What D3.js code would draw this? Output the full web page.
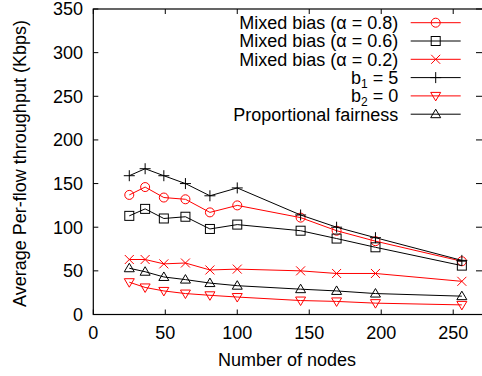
<!DOCTYPE html>
<html>
<head>
<meta charset="utf-8">
<script src="https://cdn.jsdelivr.net/npm/d3@7"></script>
<style>
body{margin:0;background:#fff;}
svg{display:block;font-family:"Liberation Sans",Arial,sans-serif;}
</style>
</head>
<body>
<div id="chart"></div>
<script>
// node counts (x) and per-flow throughput in Kbps for each scheme
var nodes = [25, 36, 49, 64, 81, 100, 144, 169, 196, 256];
var mixed08 = [137, 146, 134, 132, 117, 125, 111, 96, 84, 61];
var mixed06 = [113, 121, 110, 112, 98, 103, 96, 87, 77, 56];
var mixed02 = [63, 63, 58, 59, 51, 52, 50, 47, 47, 38];
var b1_5 = [159, 167, 159, 150, 136, 145, 114, 100, 88, 62];
var b2_0 = [37, 31, 27, 24, 22, 20, 16, 15, 13, 11];
var propFair = [53, 49, 43, 40, 36, 33, 29, 27, 24, 21];

var xTicks = [0, 50, 100, 150, 200, 250];
var yTicks = [0, 50, 100, 150, 200, 250, 300, 350];

var series = [
	{name:"Mixed bias (\u03b1 = 0.8)", vals:mixed08, col:"#ff0000", sym:"circle"},
	{name:"Mixed bias (\u03b1 = 0.6)", vals:mixed06, col:"#000000", sym:"square"},
	{name:"Mixed bias (\u03b1 = 0.2)", vals:mixed02, col:"#ff0000", sym:"cross"},
	{name:["b","1"," = 5"], vals:b1_5, col:"#000000", sym:"plus"},
	{name:["b","2"," = 0"], vals:b2_0, col:"#ff0000", sym:"down"},
	{name:"Proportional fairness", vals:propFair, col:"#000000", sym:"up"}
];

var width = 482, height = 376;
var pl = 93.3, pr = 482, pt = 9, pb = 314.5;
var fs = "18px";

var svg = d3.select("#chart").append("svg").attr("width",width).attr("height",height);

var x = d3.scaleLinear().domain([0,270]).range([pl,pr]);
var y = d3.scaleLinear().domain([0,350]).range([pb,pt]);

//ticks on all four sides, pointing inwards
var tl = 5;
svg.append("g").selectAll("line").data(xTicks).enter().append("line")
	.attr("x1",function(d){return x(d)}).attr("x2",function(d){return x(d)})
	.attr("y1",pb).attr("y2",pb-tl).attr("stroke","#000");
svg.append("g").selectAll("line").data(xTicks).enter().append("line")
	.attr("x1",function(d){return x(d)}).attr("x2",function(d){return x(d)})
	.attr("y1",pt).attr("y2",pt+tl).attr("stroke","#000");
svg.append("g").selectAll("line").data(yTicks).enter().append("line")
	.attr("x1",pl).attr("x2",pl+tl)
	.attr("y1",function(d){return y(d)}).attr("y2",function(d){return y(d)}).attr("stroke","#000");
svg.append("g").selectAll("line").data(yTicks).enter().append("line")
	.attr("x1",pr).attr("x2",pr-1-tl)
	.attr("y1",function(d){return y(d)}).attr("y2",function(d){return y(d)}).attr("stroke","#000");

svg.append("rect").attr("x",pl).attr("y",pt).attr("width",pr-pl+5).attr("height",pb-pt)
	.attr("fill","none").attr("stroke","#000").attr("stroke-width",1.2);

svg.append("g").selectAll("text").data(xTicks).enter().append("text")
	.attr("x",function(d){return x(d)}).attr("y",339)
	.attr("text-anchor","middle").style("font-size",fs).text(function(d){return d});
svg.append("g").selectAll("text").data(yTicks).enter().append("text")
	.attr("x",83).attr("y",function(d){return y(d)}).attr("dy","0.36em")
	.attr("text-anchor","end").style("font-size",fs).text(function(d){return d});

svg.append("text").attr("x",287).attr("y",366).attr("text-anchor","middle")
	.style("font-size",fs).text("Number of nodes");
svg.append("text").attr("transform","translate(19.5,163.5) rotate(-90)").attr("dy","0.36em")
	.attr("text-anchor","middle").style("font-size",fs).text("Average Per-flow throughput (Kbps)");

function drawSym(g, sym, col){
	var r = 4.5;
	if(sym==="circle"){
		g.append("circle").attr("r",r).attr("fill","none").attr("stroke",col);
	}else if(sym==="square"){
		g.append("rect").attr("x",-r).attr("y",-r).attr("width",2*r).attr("height",2*r).attr("fill","none").attr("stroke",col);
	}else if(sym==="cross"){
		g.append("path").attr("d","M-4.5,-4.5L4.5,4.5M-4.5,4.5L4.5,-4.5").attr("stroke",col);
	}else if(sym==="plus"){
		g.append("path").attr("d","M-5.5,0L5.5,0M0,-5.5L0,5.5").attr("stroke",col);
	}else if(sym==="up"){
		g.append("path").attr("d","M0,-5L5,3.5L-5,3.5Z").attr("fill","none").attr("stroke",col);
	}else if(sym==="down"){
		g.append("path").attr("d","M0,5L5,-3.5L-5,-3.5Z").attr("fill","none").attr("stroke",col);
	}
}

var line = d3.line().x(function(d){return x(d[0])}).y(function(d){return y(d[1])});

series.forEach(function(s){
	var pts = nodes.map(function(n,i){return [n, s.vals[i]]});
	svg.append("path").datum(pts).attr("d",line).attr("fill","none").attr("stroke",s.col).attr("stroke-width",1);
	svg.append("g").selectAll("g").data(pts).enter().append("g")
		.attr("transform",function(d){return "translate("+x(d[0])+","+y(d[1])+")"})
		.each(function(){drawSym(d3.select(this), s.sym, s.col)});
});

//legend
var legY = 22.7, legStep = 18.3;
var leg = svg.append("g").selectAll("g").data(series).enter().append("g")
	.attr("transform",function(d,i){return "translate(0,"+(legY+i*legStep)+")"});
leg.append("line").attr("x1",410.7).attr("x2",460.7).attr("y1",0).attr("y2",0)
	.attr("stroke",function(d){return d.col});
leg.append("g").attr("transform","translate(435.7,0)")
	.each(function(d){drawSym(d3.select(this), d.sym, d.col)});
var lt = leg.append("text").attr("x",398.3).attr("dy","0.36em").attr("text-anchor","end").style("font-size",fs);
lt.each(function(d){
	var t = d3.select(this);
	if(typeof d.name === "string"){ t.text(d.name); return; }
	t.append("tspan").text(d.name[0]);
	t.append("tspan").attr("dy",4).style("font-size","12px").text(d.name[1]);
	t.append("tspan").attr("dy",-4).text(d.name[2]);
});
</script>
</body>
</html>
